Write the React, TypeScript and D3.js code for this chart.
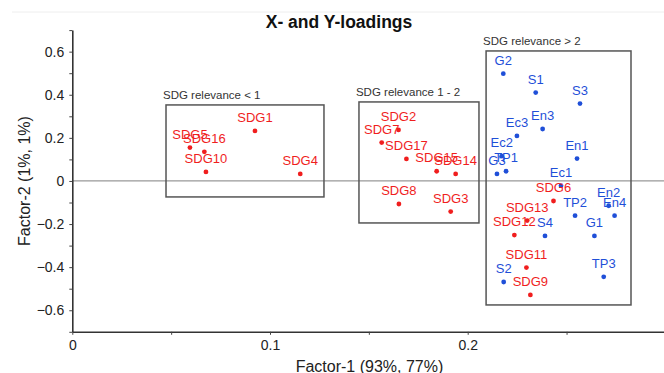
import React, { useEffect, useRef } from "react";
import * as d3 from "d3";

// X-loadings (SDG goals)
const sdgNames = ["SDG1", "SDG2", "SDG3", "SDG4", "SDG5", "SDG6", "SDG7", "SDG8", "SDG9",
  "SDG10", "SDG11", "SDG12", "SDG13", "SDG14", "SDG15", "SDG16", "SDG17"];
const sdgF1 = [0.0924, 0.165, 0.1914, 0.1153, 0.0595, 0.2434, 0.1565, 0.1652, 0.2317,
  0.0676, 0.2297, 0.2236, 0.2301, 0.1939, 0.1843, 0.0668, 0.169];
const sdgF2 = [0.232, 0.237, -0.142, 0.0325, 0.155, -0.093, 0.178, -0.107, -0.529,
  0.042, -0.402, -0.251, -0.184, 0.0325, 0.045, 0.135, 0.102];

// Y-loadings
const yNames = ["G1", "G2", "G3", "S1", "S2", "S3", "S4", "Ec1", "Ec2", "Ec3",
  "En1", "En2", "En3", "En4", "TP1", "TP2", "TP3"];
const yF1 = [0.2641, 0.218, 0.2148, 0.2344, 0.2182, 0.2568, 0.2391, 0.2472, 0.2172, 0.2249,
  0.2553, 0.2713, 0.2379, 0.2743, 0.2194, 0.2543, 0.2688];
const yF2 = [-0.255, 0.498, 0.0325, 0.41, -0.469, 0.359, -0.255, -0.022, 0.115, 0.209,
  0.104, -0.115, 0.241, -0.161, 0.045, -0.161, -0.445];

// relevance groups (boxes in data units)
const groupLabels = ["SDG relevance < 1", "SDG relevance 1 - 2", "SDG relevance > 2"];
const groupX0 = [0.0474, 0.145, 0.2093];
const groupX1 = [0.1273, 0.2057, 0.2826];
const groupY0 = [-0.0742, -0.1949, -0.5754];
const groupY1 = [0.3527, 0.3666, 0.6032];

const xMajor = [0, 0.1, 0.2];
const xMinor = [0.05, 0.15, 0.25];
const yMajor = [-0.6, -0.4, -0.2, 0, 0.2, 0.4, 0.6];
const yMinor = [-0.7, -0.5, -0.3, -0.1, 0.1, 0.3, 0.5, 0.7];

export default function App() {
  const ref = useRef<SVGSVGElement>(null);

  useEffect(() => {
    const width = 664;
    const height = 373;
    const font = "'Liberation Sans', Arial, sans-serif";
    const svg = d3.select(ref.current);
    svg.selectAll("*").remove();

    const x = d3.scaleLinear().domain([0, 0.3]).range([72.3, 665.4]);
    const y = d3.scaleLinear().domain([-0.7, 0.7]).range([331.8, 30.1]);
    const fmt = (d: number) => (d === 0 ? "0" : d3.format(".1f")(d));

    // faint frame line at top
    svg.append("line")
      .attr("x1", 12).attr("x2", width).attr("y1", 12).attr("y2", 12)
      .attr("stroke", "#eeeeee");

    svg.append("text")
      .attr("x", 339).attr("y", 27.5)
      .attr("text-anchor", "middle")
      .style("font-family", font).style("font-size", "17.5px").style("font-weight", "bold")
      .attr("fill", "#111")
      .text("X- and Y-loadings");

    // zero line
    svg.append("line")
      .attr("x1", x(0)).attr("x2", width)
      .attr("y1", y(0)).attr("y2", y(0))
      .attr("stroke", "#999").attr("stroke-width", 1.2);

    // axes
    const gx = svg.append("g").attr("transform", `translate(0,${y(-0.7)})`);
    gx.call(d3.axisBottom(x).tickValues(xMajor).tickFormat(fmt as any).tickSize(3).tickSizeOuter(0).tickPadding(5));
    gx.append("g").call(d3.axisBottom(x).tickValues(xMinor).tickFormat(() => "").tickSize(3).tickSizeOuter(0))
      .select(".domain").remove();

    const gy = svg.append("g").attr("transform", `translate(${x(0)},0)`);
    gy.call(d3.axisLeft(y).tickValues(yMajor).tickFormat(fmt as any).tickSize(3).tickSizeOuter(0).tickPadding(5));
    gy.append("g").call(d3.axisLeft(y).tickValues(yMinor).tickFormat(() => "").tickSize(3).tickSizeOuter(0))
      .select(".domain").remove();

    svg.selectAll(".domain").attr("stroke", "#333").attr("stroke-width", 1.6);
    svg.selectAll(".tick line").attr("stroke", "#444");
    svg.selectAll(".tick text")
      .style("font-family", font).style("font-size", "14px").attr("fill", "#222");

    // axis titles
    svg.append("text")
      .attr("x", 369.5).attr("y", 372)
      .attr("text-anchor", "middle")
      .style("font-family", font).style("font-size", "16px").attr("fill", "#222")
      .text("Factor-1 (93%, 77%)");
    svg.append("text")
      .attr("transform", `translate(30,181) rotate(-90)`)
      .attr("text-anchor", "middle")
      .style("font-family", font).style("font-size", "16px").attr("fill", "#222")
      .text("Factor-2 (1%, 1%)");

    // group boxes
    groupLabels.forEach((lab, i) => {
      svg.append("rect")
        .attr("x", x(groupX0[i])).attr("y", y(groupY1[i]))
        .attr("width", x(groupX1[i]) - x(groupX0[i]))
        .attr("height", y(groupY0[i]) - y(groupY1[i]))
        .attr("fill", "none").attr("stroke", "#555").attr("stroke-width", 1.5);
      svg.append("text")
        .attr("x", x(groupX0[i]) - 3).attr("y", y(groupY1[i]) - 6)
        .style("font-family", font).style("font-size", "11.5px").attr("fill", "#333")
        .text(lab);
    });

    const red = "#f01e1e";
    const blue = "#1f4fd8";
    const sdg = sdgNames.map((n, i) => ({ n, a: sdgF1[i], b: sdgF2[i], c: red }));
    const yl = yNames.map((n, i) => ({ n, a: yF1[i], b: yF2[i], c: blue }));
    const all = [...sdg, ...yl];

    svg.append("g").selectAll("circle").data(all).enter().append("circle")
      .attr("cx", (d) => x(d.a)).attr("cy", (d) => y(d.b))
      .attr("r", 2.4).attr("fill", (d) => d.c);

    svg.append("g").selectAll("text").data(all).enter().append("text")
      .attr("x", (d) => x(d.a)).attr("y", (d) => y(d.b) - 9)
      .attr("text-anchor", "middle")
      .style("font-family", font).style("font-size", "13px")
      .attr("fill", (d) => d.c)
      .text((d) => d.n);
  }, []);

  return (
    <svg
      ref={ref}
      width={664}
      height={373}
      style={{ position: "absolute", left: 0, top: 0, background: "#fff" }}
    />
  );
}
